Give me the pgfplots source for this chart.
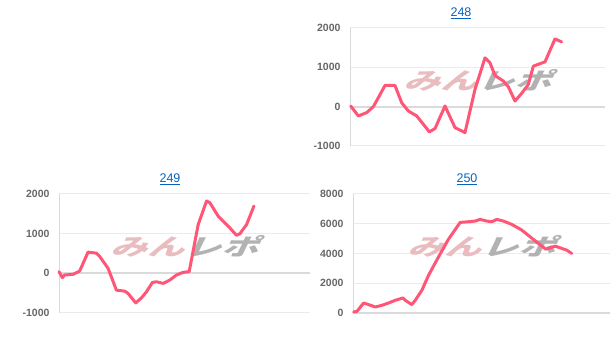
\documentclass[border=0pt]{standalone}
\usepackage{fontspec}
\setmainfont{Liberation Sans}
\newfontfamily\jp[FakeSlant=0.3]{Noto Sans CJK JP}
\usepackage{pgfplots}
\pgfplotsset{compat=1.18}
\definecolor{linec}{HTML}{FF5576}
\definecolor{gridc}{HTML}{EBEBEB}
\definecolor{zeroc}{HTML}{DADADA}
\definecolor{tickc}{HTML}{666666}
\definecolor{linkc}{HTML}{0563C1}
\definecolor{wmpink}{HTML}{E9BCC0}
\definecolor{wmgrey}{HTML}{B2B2B2}
\pgfplotsset{
  panel/.style={
    scale only axis, anchor=south west,
    axis line style={draw=none},
    xtick=\empty, major tick length=0pt,
    ymajorgrids, grid style={draw=gridc, line width=1pt},
    yticklabel style={font=\fontsize{10.5}{12}\selectfont\bfseries, text=tickc, xshift=-6pt},
    clip=false,
  },
  curve/.style={color=linec, line width=3pt, line join=round, line cap=round, no markers},
}
\newcommand{\wm}{\node[font=\jp\bfseries\fontsize{23}{23}\selectfont, xscale=1.6, inner sep=0pt] at (rel axis cs:0.5,0.56) {{\color{wmpink}みん}{\color{wmgrey}レポ}};}
\begin{document}
\begin{tikzpicture}
\useasboundingbox (0pt,0pt) rectangle (616pt,344pt);
% 248
\node[font=\fontsize{12.5}{14}\selectfont, text=linkc] at (461pt,331pt) {\underline{248}};
\begin{axis}[panel, at={(350pt,198pt)}, width=255pt, height=118pt,
  xmin=0, xmax=765, ymin=-1000, ymax=2000,
  ytick={-1000,0,1000,2000}, yticklabels={-1000,0,1000,2000}]
\wm
\draw[zeroc, line width=1pt] (rel axis cs:0,0) -- (rel axis cs:0,1);
\draw[zeroc, line width=2pt] (axis cs:0,0) -- (axis cs:765,0);
\addplot[curve] coordinates {
(2,17) (25,-236) (50,-152) (70,0) (85,228) (105,540) (135,540) (155,101)
(175,-110) (200,-236) (220,-447) (238,-641) (255,-557) (285,17) (315,-532)
(345,-658) (375,439) (405,1241) (420,1114) (435,793) (460,650) (475,506)
(495,143) (515,338) (535,565) (550,1030) (585,1139) (615,1722) (635,1646)};
\end{axis}
% 249
\node[font=\fontsize{12.5}{14}\selectfont, text=linkc] at (170pt,165pt) {\underline{249}};
\begin{axis}[panel, at={(59pt,31pt)}, width=251pt, height=119pt,
  xmin=0, xmax=752, ymin=-1000, ymax=2000,
  ytick={-1000,0,1000,2000}, yticklabels={-1000,0,1000,2000}]
\wm
\draw[zeroc, line width=1pt] (rel axis cs:0,0) -- (rel axis cs:0,1);
\draw[zeroc, line width=2pt] (axis cs:0,0) -- (axis cs:752,0);
\addplot[curve] coordinates {
(0,42) (10,-110) (17,-42) (42,-25) (62,59) (87,534) (112,508) (122,424)
(147,127) (172,-424) (197,-449) (207,-508) (230,-746) (247,-619) (262,-466)
(280,-229) (292,-212) (312,-254) (332,-169) (352,-42) (372,25) (390,42)
(417,1229) (442,1822) (452,1780) (477,1441) (512,1144) (532,958) (542,1000)
(562,1229) (584,1695)};
\end{axis}
% 250
\node[font=\fontsize{12.5}{14}\selectfont, text=linkc] at (467pt,165pt) {\underline{250}};
\begin{axis}[panel, at={(353pt,31pt)}, width=257pt, height=119pt,
  xmin=0, xmax=772, ymin=0, ymax=8000,
  ytick={0,2000,4000,6000,8000}, yticklabels={0,2000,4000,6000,8000}]
\wm
\draw[zeroc, line width=1pt] (rel axis cs:0,0) -- (rel axis cs:0,1);
\draw[zeroc, line width=2pt] (axis cs:0,0) -- (axis cs:772,0);
\addplot[curve] coordinates {
(2,67) (12,112) (32,674) (47,562) (67,404) (87,517) (107,674) (127,854)
(150,1011) (157,854) (177,562) (187,854) (207,1528) (227,2539) (257,3775)
(287,4966) (322,6090) (347,6135) (367,6180) (382,6292) (402,6180) (417,6135)
(432,6292) (452,6180) (477,5955) (507,5573) (532,5124) (557,4674) (579,4292)
(592,4382) (607,4494) (622,4382) (642,4225) (657,4000)};
\end{axis}
\end{tikzpicture}
\end{document}
